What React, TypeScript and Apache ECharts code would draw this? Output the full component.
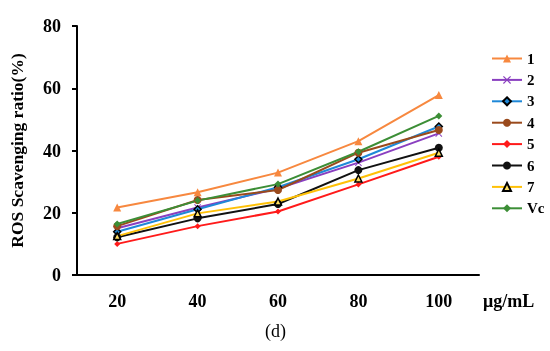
import React, { useEffect, useRef } from "react";
import * as echarts from "echarts";

const categories = ["20", "40", "60", "80", "100"];
const seriesNames = ["1", "2", "3", "4", "5", "6", "7", "Vc"];
const s1 = [21.7, 26.6, 32.9, 43.0, 57.8];
const s2 = [15.0, 21.7, 27.8, 36.1, 45.5];
const s3 = [13.9, 21.1, 28.2, 37.2, 47.7];
const s4 = [15.7, 24.1, 27.3, 39.3, 46.6];
const s5 = [10.0, 15.7, 20.4, 29.1, 38.0];
const s6 = [12.1, 18.2, 22.8, 33.7, 40.9];
const s7 = [12.5, 19.8, 23.6, 31.0, 39.3];
const sVc = [16.4, 23.9, 29.2, 39.6, 51.1];
const yTicks = [0, 20, 40, 60, 80];

const allData = [s1, s2, s3, s4, s5, s6, s7, sVc];
const colors = ["#F7883F", "#8A3FC0", "#1E88D8", "#9A4A1C", "#FF1A1A", "#111111", "#FFC107", "#3C8E36"];
const xPath = "path://M1,0L5,4L9,0L10,1L6,5L10,9L9,10L5,6L1,10L0,9L4,5L0,1Z";
const symbols = ["triangle", xPath, "diamond", "circle", "diamond", "circle", "triangle", "diamond"];
const sizes = [8, 7, 7, 8, 6, 8, 7, 7];

export default function App() {
  const ref = useRef<HTMLDivElement>(null);
  useEffect(() => {
    if (!ref.current) return;
    const chart = echarts.init(ref.current, null, { renderer: "svg" });
    const font = "'Liberation Serif', 'Times New Roman', serif";
    chart.setOption({
      animation: false,
      grid: { left: 73, right: 71, top: 26, bottom: 76 },
      legend: {
        orient: "vertical",
        left: 486,
        top: 46,
        itemWidth: 30,
        itemHeight: 10,
        itemGap: 6.4,
        data: seriesNames,
        textStyle: { fontFamily: font, fontWeight: "bold", fontSize: 15, color: "#000" },
      },
      xAxis: {
        type: "category",
        data: categories,
        boundaryGap: true,
        axisLine: { lineStyle: { color: "#000", width: 2 } },
        axisTick: { alignWithLabel: true, length: 4, lineStyle: { color: "#000", width: 2 } },
        axisLabel: { margin: 17, fontFamily: font, fontWeight: "bold", fontSize: 18, color: "#000" },
      },
      yAxis: {
        type: "value",
        min: yTicks[0],
        max: yTicks[yTicks.length - 1],
        interval: 20,
        name: "ROS Scavenging ratio(%)",
        nameLocation: "middle",
        nameGap: 51,
        nameTextStyle: { fontFamily: font, fontWeight: "bold", fontSize: 17.5, color: "#000" },
        splitLine: { show: false },
        axisLine: { show: true, lineStyle: { color: "#000", width: 2 } },
        axisTick: { show: true, length: 5, lineStyle: { color: "#000", width: 2 } },
        axisLabel: { margin: 16, fontFamily: font, fontWeight: "bold", fontSize: 18, color: "#000" },
      },
      graphic: [
        {
          type: "text",
          left: 483,
          top: 292,
          style: { text: "μg/mL", font: `bold 18px ${font}`, fill: "#000" },
        },
        {
          type: "text",
          left: 265,
          top: 322,
          style: { text: "(d)", font: `18px ${font}`, fill: "#000" },
        },
      ],
      series: allData.map((d, i) => ({
        name: seriesNames[i],
        type: "line",
        data: d,
        symbol: symbols[i],
        symbolSize: sizes[i],
        lineStyle: { color: colors[i], width: 2 },
        itemStyle: {
          color: i === 6 ? "#FFE066" : colors[i],
          borderColor: i === 2 || i === 6 ? "#000" : colors[i],
          borderWidth: i === 2 || i === 6 ? 1.5 : 0,
        },
      })),
    });
    return () => chart.dispose();
  }, []);
  return (
    <div
      ref={ref}
      style={{ position: "fixed", left: 0, top: 0, width: 550, height: 351 }}
    />
  );
}
